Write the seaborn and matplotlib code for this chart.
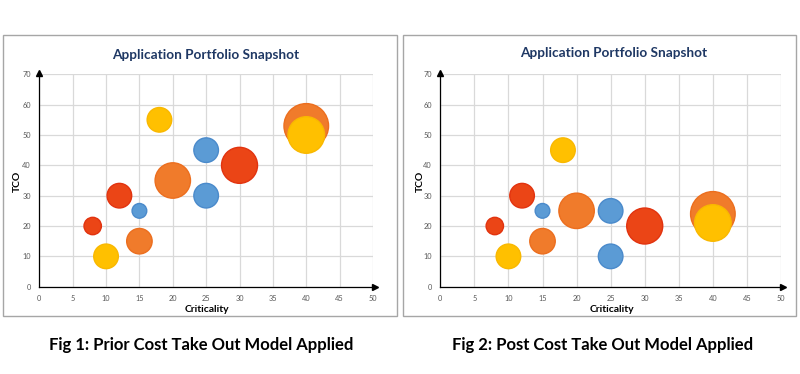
#!/usr/bin/env python3
"""
Two bubble charts of the application portfolio, before and after the
cost take out model, drawn side by side with a caption under each.
"""
import matplotlib
matplotlib.use('Agg')
import matplotlib.pyplot as plt
from matplotlib.patches import Rectangle
import pandas as pd
import seaborn as sns

# bubble data: same applications in both snapshots, only TCO moves
GROUPS = ['red', 'red', 'red',
          'orange', 'orange', 'orange',
          'yellow', 'yellow', 'yellow',
          'blue', 'blue', 'blue']
CRITICALITY = [8, 12, 30, 15, 20, 40, 10, 18, 40, 15, 25, 25]
TCO_PRIOR = [20, 30, 40, 15, 35, 53, 10, 55, 50, 25, 45, 30]
TCO_POST = [20, 30, 20, 15, 25, 24, 10, 45, 21, 25, 25, 10]
BUBBLE = [7, 14, 30, 15, 29, 46, 14, 14, 31, 5, 14, 14]

COLORS = {'red': ('#EB4516', '#E2330F'),
          'orange': ('#F07B2B', '#EC6E1E'),
          'yellow': ('#FFC000', '#F9B800'),
          'blue': ('#5B9BD5', '#4A8ACB')}

TITLE = 'Application Portfolio Snapshot'
CAPTIONS = ['Fig 1: Prior Cost Take Out Model Applied',
            'Fig 2: Post Cost Take Out Model Applied']
X_TICKS = list(range(0, 51, 5))
Y_TICKS = list(range(0, 71, 10))

rows = []
for panel, tco in enumerate([TCO_PRIOR, TCO_POST]):
    for g, x, y, b in zip(GROUPS, CRITICALITY, tco, BUBBLE):
        rows.append([panel, g, x, y, b])
data = pd.DataFrame(rows, columns=['panel', 'group', 'criticality', 'tco', 'bubble'])

sns.set_style('white')
plt.rcParams['font.family'] = ['Lato', 'DejaVu Sans']

W, H = 800, 374
fig = plt.figure(figsize=(W / 100, H / 100), dpi=100)

# panel boxes (pixels: left, top, right, bottom)
boxes = [(3, 35, 397, 316), (403, 35, 796, 316)]
axes_px = [(39.3, 74.3, 373, 286.7), (440.3, 74.3, 781, 286.7)]
title_pos = [(206, 55), (614, 53)]
tco_x = [17, 420]
crit_pos = [(207, 309), (612, 309)]
caption_pos = [(201, 345), (603, 345)]

SMAX = 1030
for panel in range(2):
    l, t, r, b = boxes[panel]
    fig.patches.append(Rectangle((l / W, 1 - b / H), (r - l) / W, (b - t) / H,
                                 transform=fig.transFigure, fill=False,
                                 edgecolor='#A6A6A6', linewidth=1.0))
    al, at, ar, ab = axes_px[panel]
    ax = fig.add_axes([al / W, 1 - ab / H, (ar - al) / W, (ab - at) / H])
    ax.set_axisbelow(True)

    sub = data[data['panel'] == panel]
    for g in ['red', 'orange', 'yellow', 'blue']:
        part = sub[sub['group'] == g].sort_values('bubble', ascending=False)
        face, edge = COLORS[g]
        sns.scatterplot(data=part, x='criticality', y='tco', size='bubble',
                        sizes=(0, SMAX), size_norm=(0, 46), color=face,
                        edgecolor=edge, linewidth=1.0, alpha=1, legend=False,
                        ax=ax, clip_on=False, zorder=3)

    ax.set_xlim(0, 50)
    ax.set_ylim(0, 70)
    ax.set_xticks(X_TICKS)
    ax.set_yticks(Y_TICKS)
    ax.grid(True, color='#D9D9D9', linewidth=0.9)
    ax.tick_params(length=0, labelsize=5.3, labelcolor='#595959', pad=6)
    ax.set_xlabel('')
    ax.set_ylabel('')
    for s in ['top', 'right']:
        ax.spines[s].set_visible(False)
    for s in ['left', 'bottom']:
        ax.spines[s].set_color('black')
        ax.spines[s].set_linewidth(0.9)
    ax.plot(1.005, 0, '>', color='black', markersize=4,
            transform=ax.transAxes, clip_on=False)
    ax.plot(0, 1.005, '^', color='black', markersize=4,
            transform=ax.transAxes, clip_on=False)

    tx, ty = title_pos[panel]
    fig.text(tx / W, 1 - ty / H, TITLE, ha='center', va='center',
             fontsize=9.8, fontweight='bold', color='#1F3864')
    fig.text(tco_x[panel] / W, 1 - 181 / H, 'TCO', ha='center', va='center',
             rotation=90, fontsize=7.5, fontweight='bold', color='black')
    cx, cy = crit_pos[panel]
    fig.text(cx / W, 1 - cy / H, 'Criticality', ha='center', va='center',
             fontsize=7.5, fontweight='bold', color='black')
    px, py = caption_pos[panel]
    fig.text(px / W, 1 - py / H, CAPTIONS[panel], ha='center', va='center',
             fontsize=12, fontweight='bold', color='black')

fig.savefig('out.png', dpi=100)
